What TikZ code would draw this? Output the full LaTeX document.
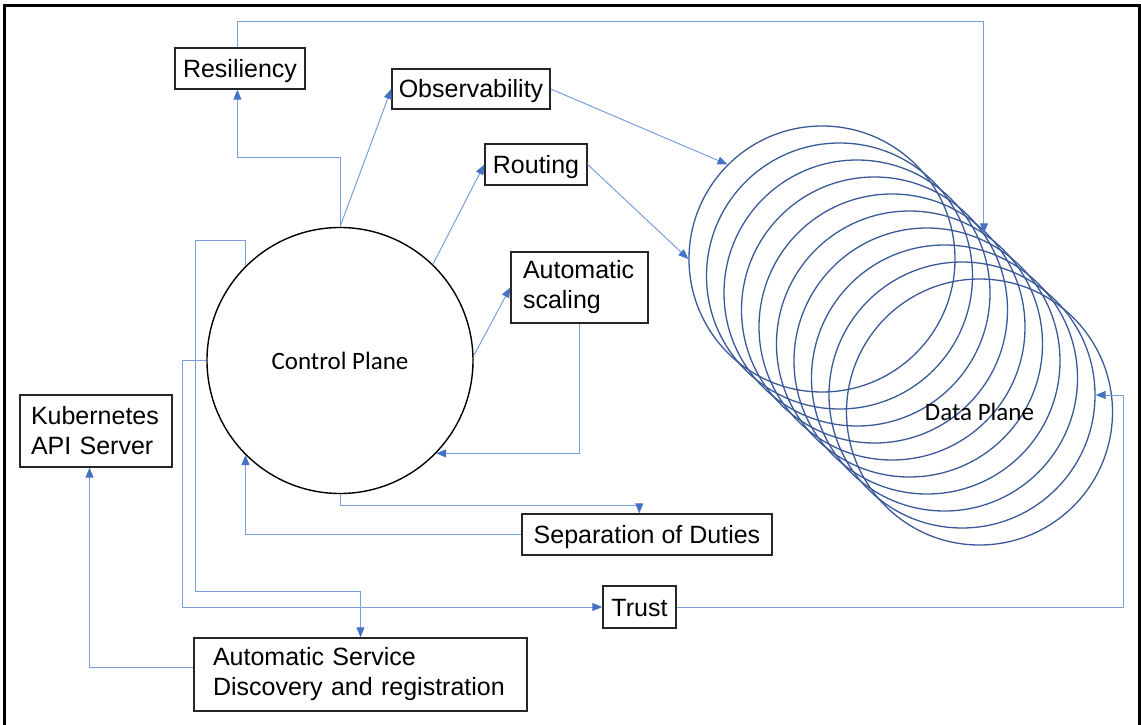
\documentclass[tikz,border=0pt]{standalone}
\usepackage{fontspec}
\setmainfont{Liberation Sans}
\newfontfamily\calibrifont{Carlito}
\usetikzlibrary{arrows.meta}
\definecolor{linkblue}{HTML}{7B9FDC}
\definecolor{tipblue}{HTML}{4472C4}
\definecolor{dpblue}{HTML}{3B5998}
\definecolor{boxline}{HTML}{262626}

\begin{document}
\begin{tikzpicture}[x=1pt, y=-1pt,
    >={Triangle[length=10pt,width=8pt,color=tipblue]},
    font=\fontsize{25}{30}\selectfont,
    box/.style={draw=boxline, line width=1.4pt, inner sep=0pt,
      text height=18pt, text depth=0pt},
    twoline/.style={draw=boxline, line width=1.4pt, align=left, inner ysep=0pt},
    link/.style={->, draw=linkblue, line width=1pt},
    plane/.style={circle, inner sep=0pt, minimum size=266pt}]
  \useasboundingbox (0,0) rectangle (1141,725);
  \draw[line width=3pt] (4,730) -- (4,6) -- (1139,6) -- (1139,730);

  % control plane and the ring of data planes
  \node[plane, draw=black, line width=1.4pt, font=\calibrifont\fontsize{25}{30}\selectfont]
    (CP) at (340,360.5) {Control Plane};
  \foreach \k in {0,...,9}
    \node[plane, draw=dpblue, line width=1.3pt] (DP\k) at (822+17.5*\k, 259+17*\k) {};
  \node[font=\calibrifont\fontsize{25}{30}\selectfont] at (DP9.center) {Data Plane};

  \path
  (240,68.5) node[box, minimum width=130pt, minimum height=41pt] (RES) {Resiliency}
  (471,89) node[box, minimum width=158pt, minimum height=40pt] (OBS) {Observability}
  (536,164.5) node[box, minimum width=102pt, minimum height=41pt] (ROUT) {Routing}
  (647,534.5) node[box, minimum width=250pt, minimum height=41pt] (SOD) {Separation of Duties}
  (639.5,607) node[box, minimum width=73pt, minimum height=42pt] (TRUST) {Trust}
  (579.5,287.5) node[twoline, inner xsep=12pt, text width=113pt, minimum height=71pt] (SCAL)
    {Automatic\\scaling}
  (96,431) node[twoline, inner xsep=11pt, text width=130pt, minimum height=72pt] (KUBE)
    {Kubernetes\\API Server}
  (360.5,674.5) node[twoline, inner xsep=19pt, text width=295pt, minimum height=73pt] (ASD)
    {Automatic Service\\Discovery and registration};

  \draw[link] (CP.north) -- ++(0,-69) -| (RES.263);
  \draw[link] (CP.north) -- (OBS.west);
  \draw[link] (RES.97) -- ++(0,-26) -| (DP3.35);
  \draw[link] (OBS.east) -- (DP0.135);
  \draw[link] (CP.46) -- (ROUT.west);
  \draw[link] (ROUT.east) -- (DP0.180);
  \draw[link] (CP.2) -- (SCAL.west);
  \draw[link] (SCAL.south) |- (CP.-44);
  \draw[link] (CP.south) -- ++(0,11) -| (SOD.110);
  \draw[link] (SOD.west) -| (CP.-135);
  \draw[link] (CP.135) -- ++(0,-25) -| (195,591) -| (ASD.north);
  \draw[link] (CP.west) -- ++(-24,0) |- (TRUST.west);
  \draw[link] (TRUST.east) -- ++(447,0) |- (DP8.0);
  \draw[link] ([yshift=7pt]ASD.west) -| (KUBE.260);
\end{tikzpicture}
\end{document}
